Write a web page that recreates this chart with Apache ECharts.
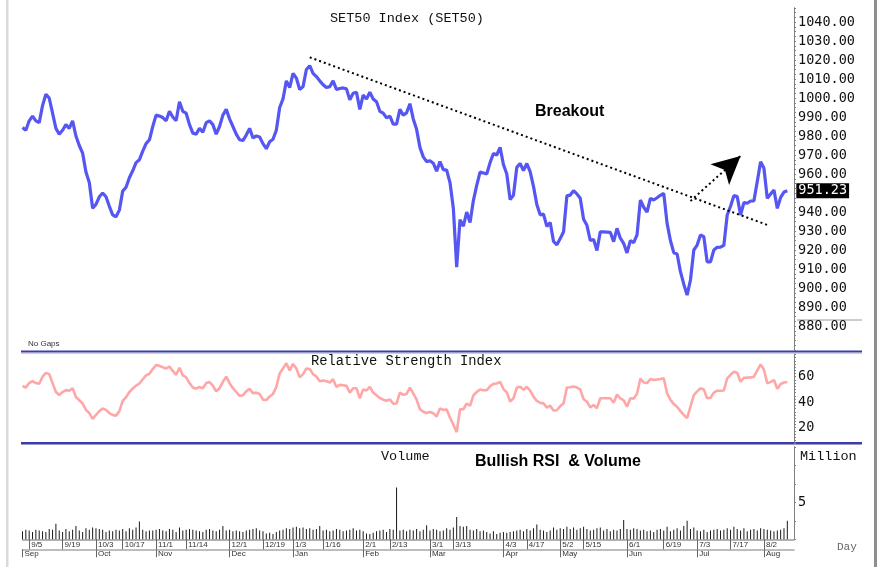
<!DOCTYPE html>
<html><head><meta charset="utf-8">
<script src="https://cdn.jsdelivr.net/npm/echarts@6/dist/echarts.min.js"></script>
<style>html,body{margin:0;padding:0;background:#fff}#c{width:880px;height:567px}</style>
</head><body><div id="c"></div>
<script>
// ---- data ----
const price = [
984.5, 983, 988, 990.5, 988, 987, 996, 1002, 1000, 992,
984, 981, 983, 986, 984, 988, 980, 975, 971, 961,
955.5, 942, 944, 948, 950, 948, 943, 938.5, 937.5, 941,
951, 953, 958, 961.7, 966, 967.5, 972, 976, 978, 985,
991, 990.5, 989.7, 988, 993, 990, 988, 998, 993, 992,
986, 981.5, 981, 984, 982, 987, 988, 986, 981, 985,
991, 994, 989, 985, 981, 978, 977.6, 980.5, 984, 979,
980, 979.5, 976, 973.3, 977, 978.3, 983, 995, 999.5, 1009,
1005.5, 1013, 1010.5, 1004.5, 1006, 1015, 1017, 1013, 1011.3, 1009,
1007, 1005.5, 1006, 1009, 1004.5, 1005, 1005.3, 1004.8, 999, 1002.5,
1003, 994, 1001.5, 999.5, 1003, 999.5, 998, 993, 992, 989.5,
990.5, 986.3, 986.3, 994, 991, 992.2, 997, 989, 983.5, 974,
969, 966.5, 967, 965.7, 961.5, 966.5, 962.3, 962, 955.5, 942,
911, 936, 932.5, 940, 934.5, 946, 954, 961, 960.5, 960,
966, 970.8, 970, 974, 965, 960, 946.5, 948.8, 963.5, 965.5,
961.8, 965.5, 961.3, 953.5, 944, 938.5, 938.9, 932.4, 934.5, 924.5,
922.7, 926, 929.6, 948.5, 948.9, 951.2, 949.5, 947.3, 936.2, 933,
925, 925.5, 919.7, 929.6, 929.5, 929.4, 929.3, 924.4, 931.4, 926.2,
923.5, 918.5, 924.9, 923.9, 928, 946.3, 942.5, 940, 947.2, 946.3,
947.5, 948.8, 949.8, 934, 925, 918.6, 917.9, 908.6, 902, 896.3,
904.2, 920, 922.6, 927.9, 927, 913.8, 913.8, 920, 921.4, 921.5,
922.5, 938.4, 943, 948.6, 948.1, 938.4, 944.9, 944.6, 945.8, 945.9,
956, 966.5, 963, 947.2, 949.5, 951.6, 941.9, 947.7, 950.5, 951.23
];
const rsi = [
52.7, 51.5, 55, 56.5, 55, 54.5, 60, 63, 62, 55,
48, 45.6, 48, 49.5, 49, 51, 44, 41.5, 39, 34,
31.5, 27, 30, 33, 35, 34, 31.5, 30, 29.5, 33,
41, 44, 48, 50.7, 53, 54.7, 58, 61, 62.3, 66,
69.2, 68.5, 67.4, 66.5, 68, 64.5, 61.5, 67, 61, 59.5,
55, 51.5, 50.6, 52, 51, 55, 55.8, 53, 48.5, 51,
56, 60, 55, 51, 48, 45, 45.5, 48.5, 50.5, 47,
47.5, 46.5, 42, 41.7, 44.5, 46.5, 52, 62.5, 66.5, 70.5,
65, 70, 66.5, 59.5, 62, 66.5, 66, 62, 60.2, 56.5,
57, 56.5, 55.5, 58, 52, 53.6, 53.3, 52.8, 47.5, 51,
51, 43, 50, 49.2, 52, 47.5, 45.5, 43.3, 42, 41.2,
42.2, 38.8, 39, 47.5, 45.8, 46.5, 51.5, 47, 42, 34.5,
32.5, 31.5, 32.3, 31.4, 28.8, 35, 34, 34.3, 27.8, 22.5,
16.5, 34.5, 34.5, 39, 37.2, 45.3, 48, 50, 49.4, 49.5,
52.5, 54.4, 54.7, 56, 50.3, 47.7, 40.6, 43, 51.5, 52.2,
49.7, 52.1, 49.1, 44.4, 41, 39.5, 39.1, 35.8, 37.3, 33.5,
33.7, 36.9, 39.1, 51.5, 51.7, 52.3, 51.5, 50.1, 42.3, 40.5,
36, 37.8, 35.3, 43.1, 43.1, 43.1, 43.1, 39.6, 46, 43,
41.5, 36.5, 43.1, 42.8, 46.7, 58.5, 55.5, 55, 58.2, 57.4,
57.8, 58.2, 58.7, 47, 42, 38.5, 36.5, 33, 30, 27.5,
36.5, 45.6, 48.5, 50.9, 50, 43.1, 43.5, 47.5, 49, 49,
49.2, 58.7, 61.5, 63.9, 63.1, 56.1, 59.2, 59.3, 59.5, 60,
65, 69.7, 65.5, 54.8, 56, 57.4, 50.5, 54.3, 55.5, 55.8
];
const volume = [
1.1, 1.3, 1.2, 1.0, 1.3, 1.2, 1.1, 1.0, 1.4, 1.3,
2.1, 1.2, 1.0, 1.4, 1.1, 1.3, 1.8, 1.2, 1.0, 1.5,
1.3, 1.6, 1.5, 1.4, 1.3, 1.0, 1.2, 1.1, 1.3, 1.2,
1.4, 1.1, 1.5, 1.3, 1.6, 2.4, 1.3, 1.1, 1.2, 1.2,
1.3, 1.4, 1.2, 1.1, 1.4, 1.3, 1.0, 1.6, 1.2, 1.3,
1.4, 1.3, 1.2, 1.1, 1.0, 1.3, 1.4, 1.2, 1.1, 1.3,
1.8, 1.2, 1.3, 1.1, 1.2, 1.1, 1.0, 1.2, 1.3, 1.4,
1.5, 1.2, 1.1, 0.8, 0.9, 0.7, 1.0, 1.2, 1.3, 1.5,
1.4, 1.6, 1.7, 1.5, 1.6, 1.4, 1.5, 1.3, 1.4, 1.8,
1.2, 1.3, 1.1, 1.2, 1.4, 1.3, 1.1, 1.2, 1.3, 1.5,
1.2, 1.3, 1.1, 0.8, 0.7, 0.9, 1.1, 1.2, 1.3, 1.0,
1.4, 1.3, 7.0, 1.2, 1.3, 1.1, 1.3, 1.2, 1.4, 1.1,
1.3, 1.9, 1.2, 1.4, 1.3, 1.1, 1.2, 1.5, 1.3, 1.6,
3.0, 1.8, 1.7, 1.8, 1.3, 1.2, 1.4, 1.1, 1.2, 1.0,
0.8, 1.1, 0.7, 0.9, 1.0, 0.9, 1.0, 1.1, 1.2, 1.3,
1.1, 1.4, 1.2, 1.5, 2.0, 1.3, 1.2, 1.0, 1.2, 1.6,
1.3, 1.5, 1.4, 1.7, 1.4, 1.6, 1.3, 1.5, 1.7, 1.4,
1.2, 1.3, 1.5, 1.6, 1.2, 1.4, 1.1, 1.3, 1.2, 1.4,
2.6, 1.4, 1.3, 1.5, 1.4, 1.2, 1.3, 1.1, 1.2, 1.0,
1.3, 1.4, 1.2, 1.7, 1.1, 1.3, 1.5, 1.2, 1.8, 2.5,
1.4, 1.6, 1.2, 1.1, 1.3, 1.0, 1.2, 1.3, 1.4, 1.2,
1.3, 1.5, 1.3, 1.7, 1.4, 1.2, 1.5, 1.1, 1.3, 1.4,
1.2, 1.5, 1.4, 1.3, 1.2, 1.1, 1.2, 1.3, 1.5, 2.5
];
const holidays = ['2022-10-13','2022-10-14','2022-10-24','2022-12-05','2022-12-12','2022-12-30',
  '2023-01-02','2023-03-06','2023-04-06','2023-04-13','2023-04-14','2023-05-01','2023-05-04',
  '2023-05-05','2023-06-05','2023-07-28','2023-08-01','2023-08-14'];
const firstDay = '2022-09-01';
const lastDay = '2023-08-16';
const dayTicks = ['9/5','9/19','10/3','10/17','11/1','11/14','12/1','12/19','1/3','1/16','2/1','2/13',
  '3/1','3/13','4/3','4/17','5/2','5/15','6/1','6/19','7/3','7/17','8/2'];
const monthStarts = ['9/1','10/3','11/1','12/1','1/3','2/1','3/1','4/3','5/2','6/1','7/3','8/2'];
const monthNames = ['Sep','Oct','Nov','Dec','Jan','Feb','Mar','Apr','May','Jun','Jul','Aug'];
const priceLabels = [880, 890, 900, 910, 920, 930, 940, 950, 960, 970, 980, 990, 1000, 1010, 1020, 1030, 1040];
const rsiLabels = [20, 40, 60];
const volLabels = [5];
const trendLine = [[86, 1021.4], [223, 933.2]];
const breakoutArrow = [[200, 945.8], [215, 969.5]];

// ---- build ----
function tradingDays(start, end, hol) {
  const out = [];
  const d = new Date(start + 'T00:00:00Z');
  const e = new Date(end + 'T00:00:00Z');
  while (d <= e) {
    const wd = d.getUTCDay();
    const iso = d.toISOString().slice(0, 10);
    if (wd !== 0 && wd !== 6 && hol.indexOf(iso) < 0) out.push((d.getUTCMonth() + 1) + '/' + d.getUTCDate());
    d.setUTCDate(d.getUTCDate() + 1);
  }
  return out;
}
const categories = tradingDays(firstDay, lastDay, holidays);

const MONO = '"DejaVu Sans Mono", monospace';
const COUR = '"Liberation Mono", monospace';
const SANS = '"Liberation Sans", Arial, sans-serif';
const axisGray = '#808080';
const isDay = (i, v) => dayTicks.indexOf(v) >= 0;
const isMonth = (i, v) => monthStarts.indexOf(v) >= 0;

function rightAxis(grid, min, max, labels, fmt) {
  return {
    type: 'value', gridIndex: grid, position: 'right', min: min, max: max, interval: 2.5,
    splitLine: { show: false },
    axisLine: { show: true, lineStyle: { color: axisGray, width: 1 } },
    axisTick: { show: true, length: 2, lineStyle: { color: axisGray } },
    axisLabel: {
      margin: 4, fontFamily: MONO, fontSize: 13.5, color: '#111',
      formatter: v => labels.indexOf(Math.round(v * 100) / 100) >= 0 ? fmt(v) : ''
    }
  };
}

const L = 22.5, R = 86;
const option = {
  animation: false,
  backgroundColor: '#ffffff',
  grid: [
    { left: L, right: R, top: 7.75, height: 342, outerBoundsMode: 'none' },
    { left: L, right: R, top: 354.4, height: 89.25, outerBoundsMode: 'none' },
    { left: L, right: R, top: 446.8, height: 92.5, outerBoundsMode: 'none' }
  ],
  xAxis: [
    { type: 'category', gridIndex: 0, data: categories, boundaryGap: false, show: false },
    { type: 'category', gridIndex: 1, data: categories, boundaryGap: false, show: false },
    { type: 'category', gridIndex: 2, data: categories, boundaryGap: false,
      axisLine: { show: true, lineStyle: { color: '#9a9a9a', width: 1.5 } },
      axisTick: { show: true, interval: isDay, length: 10, lineStyle: { color: '#666' } },
      axisLabel: { interval: isDay, align: 'left', margin: 1, padding: [0, 0, 0, 2],
        fontFamily: SANS, fontSize: 8, color: '#333' },
      splitLine: { show: false } },
    { type: 'category', gridIndex: 2, data: categories, boundaryGap: false, position: 'bottom', offset: 10,
      axisLine: { show: true, lineStyle: { color: '#a8a8a8', width: 1.5 } },
      axisTick: { show: true, interval: isMonth, length: 8, lineStyle: { color: '#666' } },
      axisLabel: { interval: isMonth, align: 'left', margin: 0, padding: [0, 0, 0, 2],
        fontFamily: SANS, fontSize: 8, color: '#333',
        formatter: v => monthNames[monthStarts.indexOf(v)] || '' },
      splitLine: { show: false } }
  ],
  yAxis: [
    rightAxis(0, 867.5, 1047.5, priceLabels, v => v.toFixed(2)),
    rightAxis(1, 7.5, 77.5, rsiLabels, v => String(Math.round(v))),
    rightAxis(2, 0, 12.5, volLabels, v => String(Math.round(v)))
  ],
  series: [
    { name: 'SET50', type: 'line', xAxisIndex: 0, yAxisIndex: 0, data: price,
      symbol: 'none', lineStyle: { color: '#5656f2', width: 3.2 }, z: 3,
      endLabel: { show: true, distance: 9, formatter: p => Number(p.value).toFixed(2),
        backgroundColor: '#000', color: '#fff', fontFamily: MONO, fontSize: 13.5, padding: [1, 2, 0, 2] },
      markLine: { silent: true, animation: false, symbol: ['none', 'none'], label: { show: false },
        lineStyle: { color: '#000', type: [2, 3], width: 2 },
        data: [
          [{ coord: trendLine[0] }, { coord: trendLine[1] }],
          [{ coord: breakoutArrow[0], symbol: 'none' },
           { coord: breakoutArrow[1], symbol: 'arrow', symbolSize: [21, 28] }]
        ] } },
    { name: 'RSI', type: 'line', xAxisIndex: 1, yAxisIndex: 1, data: rsi,
      symbol: 'none', lineStyle: { color: '#ffa6a6', width: 2.6 } },
    { name: 'Volume', type: 'bar', xAxisIndex: 2, yAxisIndex: 2, data: volume,
      barWidth: 1, itemStyle: { color: '#1a1a1a' } }
  ],
  graphic: [
    { type: 'rect', shape: { x: 6, y: 0, width: 2.5, height: 567 }, style: { fill: '#dadada' }, silent: true },
    { type: 'rect', shape: { x: 874, y: 0, width: 3, height: 567 }, style: { fill: '#8e8e8e' }, silent: true },
    { type: 'rect', shape: { x: 21, y: 350.5, width: 841, height: 2 }, style: { fill: '#3c3cae' }, silent: true },
    { type: 'rect', shape: { x: 21, y: 352.5, width: 841, height: 1 }, style: { fill: '#9a9ac8' }, silent: true },
    { type: 'rect', shape: { x: 21, y: 442, width: 841, height: 2 }, style: { fill: '#3c3cae' }, silent: true },
    { type: 'rect', shape: { x: 21, y: 444, width: 841, height: 1 }, style: { fill: '#9a9ac8' }, silent: true },
    { type: 'line', shape: { x1: 797, y1: 320, x2: 862, y2: 320 }, style: { stroke: '#9a9a9a', lineWidth: 1 }, silent: true },
    { type: 'text', x: 330, y: 11, style: { text: 'SET50 Index (SET50)', font: '13.5px ' + COUR, fill: '#111' }, z: 10 },
    { type: 'text', x: 535, y: 104, style: { text: 'Breakout', font: 'bold 16px ' + SANS, fill: '#000' }, z: 10 },
    { type: 'text', x: 28, y: 340, style: { text: 'No Gaps', font: '8px ' + SANS, fill: '#333' }, z: 10 },
    { type: 'text', x: 311, y: 354, style: { text: 'Relative Strength Index', font: '13.8px ' + COUR, fill: '#111' }, z: 10 },
    { type: 'text', x: 381, y: 449, style: { text: 'Volume', font: '13.5px ' + COUR, fill: '#111' }, z: 10 },
    { type: 'text', x: 475, y: 454, style: { text: 'Bullish RSI  & Volume', font: 'bold 16px ' + SANS, fill: '#000' }, z: 10 },
    { type: 'text', x: 800, y: 449, style: { text: 'Million', font: '13.5px ' + COUR, fill: '#111' }, z: 10 },
    { type: 'text', x: 837, y: 542, style: { text: 'Day', font: '11px ' + COUR, fill: '#666' }, z: 10 }
  ]
};
const chart = echarts.init(document.getElementById('c'), null, { renderer: 'canvas' });
chart.setOption(option);
</script>
</body></html>
